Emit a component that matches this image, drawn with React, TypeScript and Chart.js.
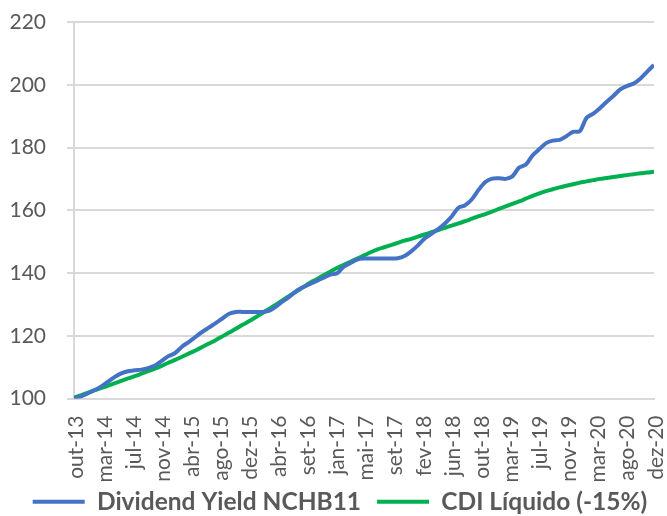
import React, { useEffect, useRef } from "react";
import { Chart, registerables } from "chart.js";

Chart.register(...registerables);

// Tick labels along the x axis (evenly spaced from out-13 to dez-20)
const xTickLabels = [
  "out-13", "mar-14", "jul-14", "nov-14", "abr-15", "ago-15", "dez-15",
  "abr-16", "set-16", "jan-17", "mai-17", "set-17", "fev-18", "jun-18",
  "out-18", "mar-19", "jul-19", "nov-19", "mar-20", "ago-20", "dez-20",
];

// Monthly values, out-13 (index 0) .. dez-20 (index 86)
const dividendYield = [
  100.0, 100.6, 101.6, 102.6, 103.8, 105.3, 106.8, 108.0, 108.7, 109.0,
  109.2, 109.7, 110.5, 112.0, 113.5, 114.5, 116.5, 118.0, 119.6, 121.2,
  122.6, 124.0, 125.5, 127.0, 127.6, 127.6, 127.6, 127.6, 127.6, 128.0,
  129.4, 131.0, 132.5, 134.3, 135.5, 136.5, 137.5, 138.5, 139.5, 139.9,
  142.0, 143.2, 144.3, 144.6, 144.6, 144.6, 144.6, 144.6, 144.7, 145.4,
  146.9, 148.8, 151.0, 152.5, 154.0, 155.8, 158.0, 160.8, 161.6, 163.5,
  166.5, 169.0, 170.1, 170.2, 170.0, 170.8, 173.6, 174.6, 177.5, 179.5,
  181.4, 182.2, 182.4, 183.6, 185.0, 185.2, 189.5, 190.8, 192.6, 194.6,
  196.5, 198.5, 199.6, 200.4, 202.0, 204.2, 206.3,
];

const cdiLiquido = [
  100.3, 101.0, 101.8, 102.6, 103.3, 104.0, 104.8, 105.6, 106.4, 107.1,
  107.9, 108.7, 109.5, 110.4, 111.4, 112.3, 113.3, 114.3, 115.3, 116.4,
  117.5, 118.6, 119.8, 121.0, 122.2, 123.5, 124.7, 126.0, 127.3, 128.6,
  130.0, 131.4, 132.8, 134.2, 135.5, 136.9, 138.0, 139.3, 140.4, 141.6,
  142.6, 143.6, 144.6, 145.6, 146.6, 147.5, 148.2, 148.9, 149.6, 150.3,
  150.9, 151.6, 152.3, 153.0, 153.7, 154.4, 155.1, 155.8, 156.5, 157.3,
  158.1, 158.8, 159.6, 160.4, 161.2, 162.0, 162.8, 163.7, 164.6, 165.4,
  166.1, 166.7, 167.3, 167.8, 168.3, 168.8, 169.2, 169.6, 170.0, 170.3,
  170.6, 170.9, 171.2, 171.5, 171.8, 172.0, 172.3,
];

const seriesNames = ["Dividend Yield NCHB11", "CDI Líquido (-15%)"];

const TEXT = "#595959";
const GRID = "#d9d9d9";

export default function App() {
  const ref = useRef<HTMLCanvasElement | null>(null);

  useEffect(() => {
    if (!ref.current) return;
    Chart.defaults.font.family = "Lato";
    const lastIndex = dividendYield.length - 1;
    const legendShift = {
      id: "legendShift",
      afterLayout(chart: any) {
        const l = chart.legend;
        if (l) {
          l.left += 13;
          l.right += 13;
          l.top -= 9;
          l.bottom -= 9;
        }
      },
    };
    const chart = new Chart(ref.current, {
      type: "line",
      data: {
        datasets: [
          {
            label: seriesNames[0],
            data: dividendYield.map((y, i) => ({ x: i, y })),
            borderColor: "#4472C4",
            backgroundColor: "#4472C4",
            borderWidth: 4,
            pointRadius: 0,
            tension: 0.3,
          },
          {
            label: seriesNames[1],
            data: cdiLiquido.map((y, i) => ({ x: i, y })),
            borderColor: "#00B050",
            backgroundColor: "#00B050",
            borderWidth: 4,
            pointRadius: 0,
            tension: 0.3,
          },
        ],
      },
      options: {
        animation: false,
        responsive: false,
        maintainAspectRatio: false,
        layout: { padding: { top: 22, right: 13, left: 0, bottom: -17 } },
        plugins: {
          tooltip: { enabled: false },
          legend: {
            position: "bottom",
            labels: {
              usePointStyle: true,
              pointStyle: "line",
              pointStyleWidth: 52,
              padding: 16,
              color: TEXT,
              font: { size: 24.5, weight: "bold", family: "Lato" },
            },
          },
        },
        scales: {
          x: {
            type: "linear",
            min: 0,
            max: lastIndex,
            afterBuildTicks(scale: any) {
              const n = xTickLabels.length - 1;
              scale.ticks = xTickLabels.map((_, k) => ({ value: (k * lastIndex) / n }));
            },
            afterFit(scale: any) {
              scale.height = 84;
              scale.paddingLeft = 0;
              scale.paddingRight = 0;
            },
            ticks: {
              autoSkip: false,
              maxRotation: 90,
              minRotation: 90,
              padding: 17,
              labelOffset: 2,
              color: TEXT,
              font: { size: 21, family: "Lato" },
              callback: (_v: any, i: number) => xTickLabels[i],
            },
            grid: { display: false, drawTicks: false },
            border: { display: true, color: GRID, width: 2 },
          },
          y: {
            min: 100,
            max: 220,
            afterFit(scale: any) {
              scale.width = 74;
              scale.paddingTop = 0;
              scale.paddingBottom = 0;
            },
            ticks: {
              stepSize: 20,
              padding: 21,
              color: TEXT,
              font: { size: 21, family: "Lato" },
            },
            grid: { color: GRID, lineWidth: 2, tickLength: 7, drawTicks: true },
            border: { display: true, color: GRID, width: 2 },
          },
        },
      },
      plugins: [legendShift],
    });
    return () => chart.destroy();
  }, []);

  return (
    <div style={{ position: "fixed", left: 0, top: 0, width: 667, height: 516, background: "#fff" }}>
      <canvas ref={ref} width={667} height={516} style={{ width: 667, height: 516 }} />
    </div>
  );
}
